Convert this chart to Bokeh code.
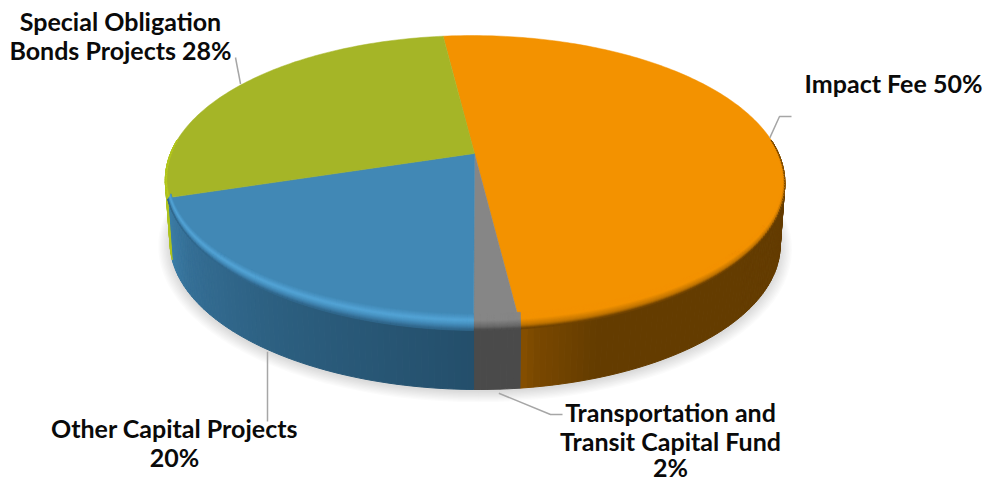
import math
from bokeh.plotting import figure
from bokeh.models import Range1d
from bokeh.core.properties import value
from bokeh.embed import file_html
from bokeh.resources import INLINE

# ---- data ----
slices = ["Impact Fee", "Transportation and Transit Capital Fund", "Other Capital Projects", "Special Obligation Bonds Projects"]
shares = [50, 2, 20, 28]
top_colors = ["#F39200", "#868686", "#4188B5", "#A5B527"]
# ---- styling per slice ----
wall_stops = [
    [(0.0, "#643C00"), (0.93, "#643C00"), (0.985, "#7A4800"), (1.0, "#8A5200")],
    [(0.0, "#4A4A4A"), (1.0, "#4A4A4A")],
    [(0.0, "#244F6B"), (0.45, "#2C5F80"), (0.8, "#356F96"), (1.0, "#3C7FA8")],
    [(0.0, "#AEC31F"), (1.0, "#AEC31F")],
]
bevel_stops = [
    [(-14, "#F39200"), (-7, "#F39200"), (-1, "#C07400"), (3, "#643C00")],
    [(-14, "#868686"), (-7, "#868686"), (-1, "#6A6A6A"), (3, "#4A4A4A")],
    [(-14, "#4188B5"), (-7, "#54A5D7"), (-3, "#4690BF"), (3, "#2F6488")],
    [(-8, "#A5B527"), (-2, "#BBCD1F"), (3, "#AEC31F")],
]
START = -6.5
CX, CY, A, B, K = 474.0, 153.0, 304.0, 140.6, 0.192
SHEAR = 0.021
DEPTH, SHRINK = 62.0, 0.985
LEADER = "#A6A6A6"


def rim(theta, r=1.0):
    t = math.radians(theta)
    u, v = r * math.sin(t), r * math.cos(t)
    d = 1 + K * v
    y = CY - B * v / d
    return CX + A * u / d + SHEAR * (y - CY), y


def low(theta):
    x, y = rim(theta)
    return CX + SHRINK * (x - CX), y + DEPTH


def hex2(c):
    return [int(c[i:i + 2], 16) for i in (1, 3, 5)]


def mix(stops, f):
    if f <= stops[0][0]:
        return stops[0][1]
    for (a, ca), (b, cb) in zip(stops, stops[1:]):
        if f <= b:
            w = (f - a) / (b - a)
            c = [round(p + (q - p) * w) for p, q in zip(hex2(ca), hex2(cb))]
            return "#%02x%02x%02x" % tuple(c)
    return stops[-1][1]


def frange(a, b, step):
    n = max(1, int(round((b - a) / step)))
    return [a + (b - a) * i / n for i in range(n + 1)]


bounds = [START]
for s in shares:
    bounds.append(bounds[-1] + s / sum(shares) * 360)
mids = [(a + b) / 2 for a, b in zip(bounds, bounds[1:])]

p = figure(width=986, height=483, x_range=Range1d(0, 986), y_range=Range1d(483, 0),
           output_backend="svg", toolbar_location=None, min_border=0,
           outline_line_color=None)
p.axis.visible = False
p.grid.visible = False

# soft shadow
for i in range(9):
    grow = 12 - i * 1.4
    xs, ys = [], []
    for th in frange(0, 360, 3):
        x, y = low(th)
        xs.append(CX + (x - CX) * (1 + grow / 310))
        ys.append(y + 2 + grow * 0.9 * max(0.15, -math.cos(math.radians(th))))
    p.patch(xs, ys, fill_color="#000000", fill_alpha=0.017, line_color=None)

# walls
wx, wy, wc = [], [], []
t_left = 360 - math.degrees(math.acos(-K))
t_right = math.degrees(math.acos(-K))
for i, (a, b) in enumerate(zip(bounds, bounds[1:])):
    lo, hi = max(a, t_right), min(b, t_left)
    if lo >= hi:
        continue
    grid = frange(lo, hi, 1.0)
    for t0, t1 in zip(grid, grid[1:]):
        x0, y0 = rim(t0)
        x1, y1 = rim(t1)
        x2, y2 = low(t1)
        x3, y3 = low(t0)
        wx.append([x0, x1, x2, x3])
        wy.append([y0, y1, y2, y3])
        f = (t0 - a) / (b - a)
        wc.append(mix(wall_stops[i], f))
p.patches(wx, wy, fill_color=wc, line_color=wc, line_width=1)

# top face
for a, b, c in zip(bounds, bounds[1:], top_colors):
    pts = [rim(t) for t in frange(a, b, 1.0)]
    p.patch([CX] + [q[0] for q in pts], [CY] + [q[1] for q in pts], fill_color=c, line_color=c, line_width=0.5)


def bevel_point(t, s):
    x, y = rim(t)
    rad = math.radians(t)
    u, v = math.sin(rad), math.cos(rad)
    w = max(0.0, min(1.0, (0.25 - v) / 0.4))
    dy = s * w * max(0.0, -v)
    dx = s * w * 0.25 * u if s < 0 else 0.0
    return x + dx, y + dy


# bevel
bx, by, bc = [], [], []
for i, (a, b) in enumerate(zip(bounds, bounds[1:])):
    stops = bevel_stops[i]
    s0, s1 = stops[0][0], stops[-1][0]
    layers = frange(s0, s1, 1.0)
    grid = frange(a, b, 1.0)
    for t0, t1 in zip(grid, grid[1:]):
        if math.cos(math.radians((t0 + t1) / 2)) > 0.1:
            continue
        for l0, l1 in zip(layers, layers[1:]):
            q = [bevel_point(t0, l0), bevel_point(t1, l0), bevel_point(t1, l1), bevel_point(t0, l1)]
            bx.append([e[0] for e in q])
            by.append([e[1] for e in q])
            bc.append(mix(stops, (l0 + l1) / 2))
p.patches(bx, by, fill_color=bc, line_color=bc, line_width=0.6)

# leaders, anchored on the slice middles
x0, y0 = rim(mids[0])
p.line([x0, 779, 791], [y0, 116, 116], line_color=LEADER, line_width=1.5)
x0, y0 = low(mids[1])
p.line([x0 + 2, 550, 562], [y0 + 4, 414, 414], line_color=LEADER, line_width=1.5)
x0, y0 = low(mids[2])
p.line([267, 267], [y0 + 3, 421], line_color=LEADER, line_width=1.5)
x0, y0 = rim(mids[3])
p.line([x0 - 2, 235], [y0, 57], line_color=LEADER, line_width=1.5)

# labels
label_lines = [
    ("Special Obligation", 120, 20),
    ("Bonds Projects 28%", 120, 49),
    ("Impact Fee 50%", 893, 82),
    ("Transportation and", 670, 411),
    ("Transit Capital Fund", 670, 440),
    ("2%", 670, 466),
    ("Other Capital Projects", 174, 427),
    ("20%", 174, 456),
]
p.text([q[1] for q in label_lines], [q[2] for q in label_lines], text=[q[0] for q in label_lines],
       text_font=value("Lato"), text_font_style="bold", text_font_size="25px",
       text_color="#0A0A0A", text_align="center", text_baseline="alphabetic")

open("out.html", "w").write(file_html(p, INLINE))
